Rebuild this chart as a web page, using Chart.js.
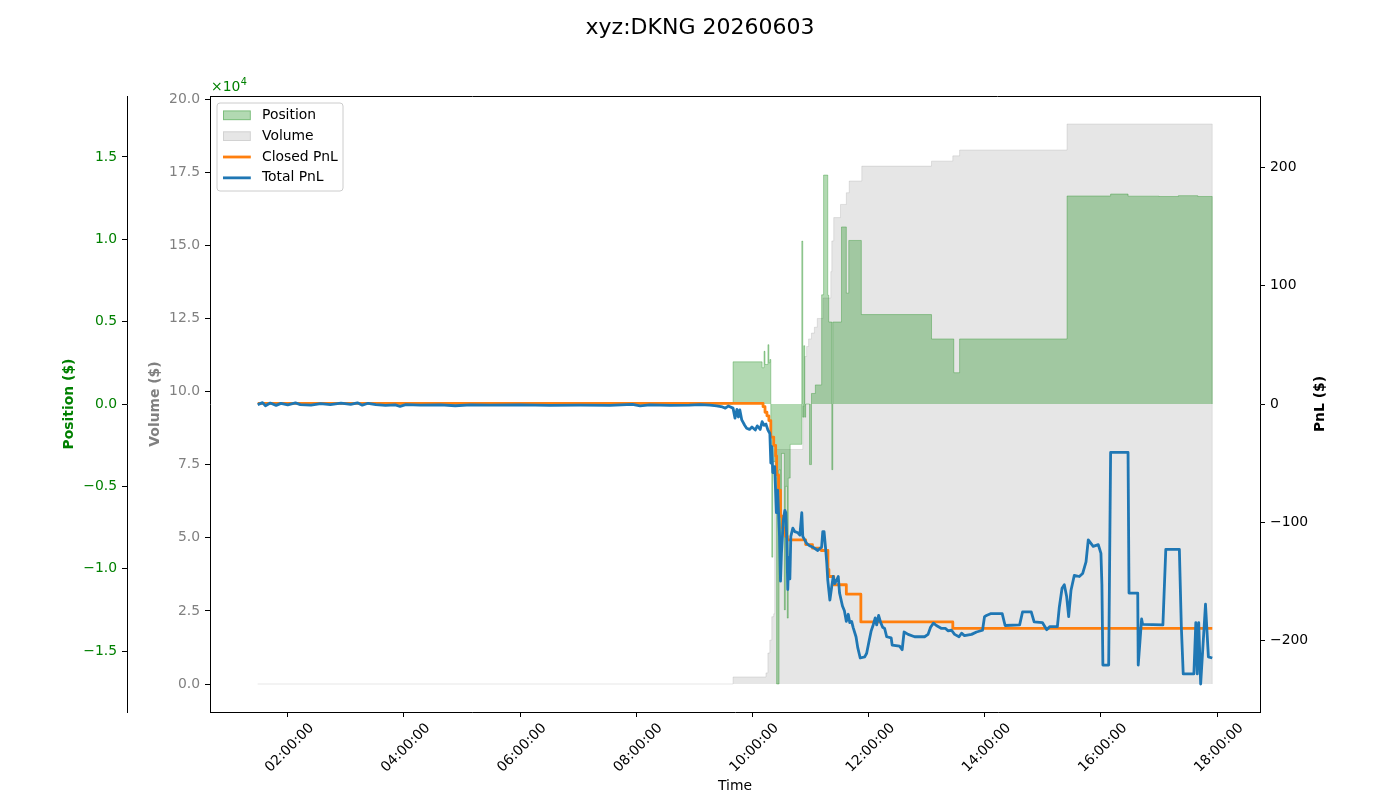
<!DOCTYPE html>
<html>
<head>
<meta charset="utf-8">
<script src="https://cdn.jsdelivr.net/npm/chart.js@4.4.1/dist/chart.umd.min.js"></script>
<style>
html,body{margin:0;padding:0;background:#fff;}
#wrap{width:1400px;height:800px;position:relative;}
canvas{display:block;}
</style>
</head>
<body>
<div id="wrap"><canvas id="c" width="1400" height="800" style="width:1400px;height:800px"></canvas></div>
<script>
// ---------------- DATA ----------------
const chartTitle = "xyz:DKNG 20260603";

const posTimes = ["01:29:00","09:40:00","10:10:00","10:12:00","10:13:00","10:16:00","10:17:00","10:18:00","10:19:00","10:20:00",
  "10:21:00","10:24:00","10:25:00","10:27:30","10:28:00","10:29:00","10:30:00","10:33:00","10:34:00","10:36:00",
  "10:37:00","10:39:00","10:51:00","10:52:00","10:53:00","10:54:00","10:55:00","10:59:00","11:01:00","11:05:00",
  "11:11:30","11:13:30","11:17:50","11:18:50","11:22:00","11:23:00","11:32:00","11:37:00","11:39:30","11:52:30",
  "13:05:00","13:28:00","13:34:00","15:25:00","16:10:00","16:28:00","17:00:00","17:20:00","17:40:00","17:55:00",
  "17:55:00"];
const posValues = [0,2560,2200,3200,2400,3600,2500,2700,-3000,-9300,
  -3500,-4500,-17000,-4000,-4000,-9500,-3000,-12500,-5000,-13000,
  -4500,-2450,9890,-800,3540,-800,0,-3680,640,1160,
  6630,13900,6600,4980,-3990,4980,10750,6730,9930,5430,
  3950,1900,3950,12630,12750,12620,12600,12650,12600,12600,
  0];

const volTimes = ["01:29:00","09:40:00","10:14:00","10:16:00","10:18:00","10:20:00","10:22:00","10:23:00","10:52:00","10:54:00",
  "10:56:00","10:58:00","11:01:00","11:04:00","11:07:00","11:13:00","11:21:00","11:22:00","11:24:00","11:31:00",
  "11:37:00","11:40:00","11:53:00","13:05:00","13:27:00","13:34:00","15:25:00","17:55:00","17:55:00"];
const volValues = [0,2400,3800,10600,15000,23000,24000,80200,95000,112000,
  115400,118000,120000,122000,125000,132000,141000,151500,159500,164000,
  168000,172000,177100,178800,180600,182600,191500,191500,0];

const closedTimes = ["01:29:00","10:11:00","10:13:00","10:15:00","10:17:00","10:19:00","10:22:00","10:24:00","10:25:00","10:27:00",
  "10:29:00","10:31:00","10:34:00","10:36:00","10:55:00","11:02:00","11:11:00","11:18:00","11:19:00","11:24:00",
  "11:37:00","11:52:00","13:27:00","17:55:00"];
const closedValues = [0.6,-2.3,-7,-10,-14,-28,-35,-44,-60,-73,
  -95,-105,-112,-115,-119,-122,-124,-140,-146,-153,
  -161,-184.5,-190,-190];

const totalTimes = [
  "01:29:00","01:34:00","01:37:00","01:42:00","01:48:00","01:53:00","02:00:00","02:08:00","02:13:00","02:24:00",
  "02:34:00","02:44:00","02:55:00","03:05:00","03:12:00","03:17:00","03:23:00","03:31:00","03:41:00","03:51:00",
  "03:56:00","04:02:00","04:17:00","04:38:00","04:53:00","05:09:00","05:29:00","06:00:00","06:31:00","07:02:00",
  "07:33:00","07:56:00","08:04:00","08:14:00","08:35:00","08:55:00","09:06:00","09:16:00","09:23:00","09:29:00",
  "09:32:00","09:35:00","09:40:00","09:42:00","09:44:00","09:45:30","09:47:00","09:49:00","09:52:00","09:54:00",
  "09:57:00","09:59:30","10:03:00","10:05:00","10:08:00","10:10:00","10:12:00","10:14:00","10:16:00","10:18:00",
  "10:19:00","10:20:00","10:21:00","10:23:00","10:24:45","10:26:00","10:28:00","10:29:00","10:30:00","10:32:00",
  "10:33:30","10:34:30","10:35:30","10:36:30","10:37:30","10:38:40","10:39:40","10:41:45","10:43:45","10:47:00",
  "10:49:00","10:51:00","10:52:00","10:54:00","10:56:00","10:59:00","11:02:00","11:07:30","11:11:30","11:12:40",
  "11:14:00","11:15:45","11:16:50","11:17:50","11:20:00","11:22:00","11:23:30","11:25:00","11:27:00","11:28:40",
  "11:30:00","11:33:00","11:35:00","11:37:00","11:39:00","11:40:30","11:42:30","11:44:00","11:47:00","11:48:45",
  "11:51:20","11:56:00","11:58:00","12:00:40","12:02:40","12:04:45","12:06:50","12:08:20","12:10:20","12:12:30",
  "12:14:30","12:16:35","12:18:40","12:23:20","12:24:20","12:32:00","12:34:40","12:36:40","12:40:50","12:47:30",
  "12:57:50","13:01:25","13:04:00","13:07:00","13:10:00","13:15:20","13:19:30","13:22:00","13:25:40","13:28:50",
  "13:33:25","13:36:00","13:39:00","13:46:20","13:51:30","13:57:40","13:59:45","14:01:45","14:05:55","14:18:00",
  "14:21:00","14:36:00","14:39:00","14:48:00","14:51:00","14:59:30","15:04:00","15:07:00","15:15:00","15:17:00",
  "15:19:50","15:22:10","15:24:35","15:26:40","15:29:05","15:32:30","15:37:40","15:41:05","15:44:35","15:46:55",
  "15:52:00","15:57:15","16:00:00","16:01:00","16:02:00","16:08:00","16:10:00","16:28:00","16:29:00","16:38:00",
  "16:38:30","16:42:00","16:43:00","17:04:00","17:07:00","17:21:00","17:23:00","17:25:00","17:36:00","17:38:00",
  "17:39:30","17:41:00","17:43:00","17:48:00","17:51:00","17:55:00"];
const totalValues = [
  -0.5,1.2,-1.5,0.8,-1.2,0.5,-0.8,0.9,-0.5,-1.0,
  0.3,-0.6,0.8,-0.4,1.0,-1.0,0.6,-0.5,-1.2,-0.8,
  -2.0,-0.6,-1.0,-0.8,-1.5,-0.7,-1.0,-0.8,-1.2,-0.9,
  -1.1,-0.3,-1.5,-0.8,-1.2,-1.0,-0.5,-1.0,-1.5,-2.5,
  -3.5,-1.7,-3.5,-12,-4.5,-11,-5,-13.5,-18,-20.5,
  -21.5,-19.5,-22,-18.5,-21.5,-15,-18,-17,-22,-25,
  -50,-36,-58,-53,-92,-73,-112,-150,-126,-98,
  -90,-92,-115,-157,-130,-148,-112,-105,-108,-109,
  -111,-92,-112,-115,-118,-120,-121,-124,-121,-108,
  -108,-124,-135,-149,-166,-154,-146,-152,-149,-146,
  -160,-171,-175,-184,-178,-185,-184,-189,-197,-206,
  -215,-214,-211,-200,-192,-187,-181,-187,-179,-185,
  -189,-190,-197,-198,-204,-205,-208,-193,-195,-197,
  -197,-195,-189,-185.5,-187.5,-190,-190,-192,-191.5,-195,
  -197,-194,-196,-195,-193,-191.5,-180,-179,-177.5,-177.5,
  -187.5,-187,-176,-176,-184.5,-185,-191,-188.5,-188.5,-172,
  -156,-153,-163,-180,-157.6,-145,-146,-143.5,-133.6,-115,
  -120.5,-119,-126.5,-153,-221,-221,-41,-41,-160,-160,
  -221,-182,-186.5,-187,-123,-123,-187.5,-228.5,-228.5,-185,
  -228.5,-185,-237,-169.5,-214,-215];

const xTickValues = [2,4,6,8,10,12,14,16,18];
const xTickLabels = ["02:00:00","04:00:00","06:00:00","08:00:00","10:00:00","12:00:00","14:00:00","16:00:00","18:00:00"];
const posTickValues = [-15000,-10000,-5000,0,5000,10000,15000];
const posTickLabels = ["\u22121.5","\u22121.0","\u22120.5","0.0","0.5","1.0","1.5"];
const volTickValues = [0,25000,50000,75000,100000,125000,150000,175000,200000];
const volTickLabels = ["0.0","2.5","5.0","7.5","10.0","12.5","15.0","17.5","20.0"];
const pnlTickValues = [-200,-100,0,100,200];
const pnlTickLabels = ["\u2212200","\u2212100","0","100","200"];

// ---------------- HELPERS ----------------
function toHours(t){ const p = t.split(':').map(Number); return p[0] + p[1]/60 + (p[2]||0)/3600; }
function series(times, values){ return times.map((t,i)=>({x: toHours(t), y: values[i]})); }

const FONT = "'DejaVu Sans', 'Liberation Sans', sans-serif";
const FS = 13.9;
Chart.defaults.font.family = FONT;

// axis limits like matplotlib auto margins
const allH = totalTimes.map(toHours);
const hMin = Math.min(...allH), hMax = Math.max(...allH);
const xPad = (hMax - hMin) * 0.05;
const posLim = Math.max(...posValues.map(Math.abs)) * 1.1;
const pnlLim = Math.max(...totalValues.map(Math.abs), ...closedValues.map(Math.abs)) * 1.1;
const vMax = Math.max(...volValues), vPad = vMax * 0.05;

const COL_POS = 'rgba(0,128,0,0.3)';
const COL_VOL = 'rgba(128,128,128,0.2)';
const COL_CLOSED = '#ff7f0e';
const COL_TOTAL = '#1f77b4';

function yAxis(opts){
  return Object.assign({
    type: 'linear',
    grid: { drawOnChartArea: false, drawTicks: true, tickLength: 5, color: '#000', tickColor: '#000', tickWidth: 1 },
    border: { display: true, color: '#000', width: 1 },
  }, opts);
}

const extras = {
  id: 'extras',
  afterDraw(chart){
    const {ctx, chartArea: a} = chart;
    ctx.save();
    // top spine
    ctx.strokeStyle = '#000'; ctx.lineWidth = 1;
    ctx.beginPath(); ctx.moveTo(a.left, Math.round(a.top) + 0.5); ctx.lineTo(a.right, Math.round(a.top) + 0.5); ctx.stroke();

    // offset text x10^4
    ctx.fillStyle = 'green';
    ctx.textBaseline = 'alphabetic'; ctx.textAlign = 'left';
    ctx.font = FS + 'px ' + FONT;
    ctx.fillText('\u00d710', a.left + 1, a.top - 5);
    const w = ctx.measureText('\u00d710').width;
    ctx.font = '9.7px ' + FONT;
    ctx.fillText('4', a.left + 1 + w + 0.5, a.top - 11);

    // right axis title (reads bottom to top)
    ctx.save();
    ctx.translate(a.right + 60, (a.top + a.bottom) / 2);
    ctx.rotate(-Math.PI / 2);
    ctx.fillStyle = '#000';
    ctx.font = 'bold ' + FS + 'px ' + FONT;
    ctx.textAlign = 'center'; ctx.textBaseline = 'middle';
    ctx.fillText('PnL ($)', 0, 0);
    ctx.restore();

    // legend
    const lx = a.left + 7, ly = a.top + 7, lw = 126, lh = 88, r = 3;
    ctx.beginPath();
    ctx.moveTo(lx + r, ly); ctx.lineTo(lx + lw - r, ly); ctx.quadraticCurveTo(lx + lw, ly, lx + lw, ly + r);
    ctx.lineTo(lx + lw, ly + lh - r); ctx.quadraticCurveTo(lx + lw, ly + lh, lx + lw - r, ly + lh);
    ctx.lineTo(lx + r, ly + lh); ctx.quadraticCurveTo(lx, ly + lh, lx, ly + lh - r);
    ctx.lineTo(lx, ly + r); ctx.quadraticCurveTo(lx, ly, lx + r, ly);
    ctx.closePath();
    ctx.fillStyle = 'rgba(255,255,255,0.8)'; ctx.fill();
    ctx.strokeStyle = '#cccccc'; ctx.lineWidth = 1; ctx.stroke();

    const ds = chart.data.datasets;
    const order = [0, 1, 2, 3];
    ctx.font = FS + 'px ' + FONT;
    ctx.textAlign = 'left'; ctx.textBaseline = 'middle';
    order.forEach((di, k) => {
      const d = ds[di];
      const cy = ly + 12.3 + k * 20.85;
      const hx = lx + 6, hw = 27.8;
      if (d.fill) {
        ctx.fillStyle = d.backgroundColor;
        ctx.fillRect(hx, cy - 4.85, hw, 9.7);
        ctx.strokeStyle = d.borderColor; ctx.lineWidth = 1;
        ctx.strokeRect(hx + 0.5, cy - 4.85 + 0.5, hw - 1, 9.7 - 1);
      } else {
        ctx.strokeStyle = d.borderColor; ctx.lineWidth = d.borderWidth;
        ctx.beginPath(); ctx.moveTo(hx, cy); ctx.lineTo(hx + hw, cy); ctx.stroke();
      }
      ctx.fillStyle = '#000';
      ctx.fillText(d.label, lx + 45, cy);
    });
    ctx.restore();
  }
};

new Chart(document.getElementById('c'), {
  type: 'line',
  data: {
    datasets: [
      { label: 'Position', yAxisID: 'yPos', data: series(posTimes, posValues), stepped: true,
        fill: 'origin', backgroundColor: COL_POS, borderColor: COL_POS, borderWidth: 1, pointRadius: 0, order: 2 },
      { label: 'Volume', yAxisID: 'yVol', data: series(volTimes, volValues), stepped: true,
        fill: 'origin', backgroundColor: COL_VOL, borderColor: COL_VOL, borderWidth: 1, pointRadius: 0, order: 3 },
      { label: 'Closed PnL', yAxisID: 'yPnl', data: series(closedTimes, closedValues), stepped: true,
        fill: false, borderColor: COL_CLOSED, borderWidth: 2.8, pointRadius: 0, order: 1, borderJoinStyle: 'round' },
      { label: 'Total PnL', yAxisID: 'yPnl', data: series(totalTimes, totalValues),
        fill: false, borderColor: COL_TOTAL, borderWidth: 2.8, pointRadius: 0, order: 0, borderJoinStyle: 'round', tension: 0 }
    ]
  },
  options: {
    responsive: false,
    animation: false,
    devicePixelRatio: 1,
    events: [],
    layout: { padding: 0 },
    plugins: {
      legend: { display: false },
      tooltip: { enabled: false },
      title: { display: true, text: chartTitle, color: '#000', font: { family: FONT, size: 22, weight: 'normal' },
               padding: { top: 15, bottom: 54.6 } }
    },
    scales: {
      x: {
        type: 'linear', position: 'bottom', min: hMin - xPad, max: hMax + xPad,
        afterBuildTicks: s => { s.ticks = xTickValues.map(v => ({ value: v })); },
        afterFit: s => { s.height = 88; },
        ticks: { autoSkip: false, minRotation: 45, maxRotation: 45, labelOffset: 24, padding: 3, color: '#000',
                 font: { family: FONT, size: FS }, callback: (v, i) => xTickLabels[i] },
        grid: { drawOnChartArea: false, drawTicks: true, tickLength: 5, color: '#000', tickColor: '#000', tickWidth: 1 },
        border: { display: true, color: '#000', width: 1 },
        title: { display: true, text: 'Time', color: '#000', font: { family: FONT, size: FS }, padding: { top: 0, bottom: 5 } }
      },
      yPos: yAxis({
        position: 'left', weight: 2, min: -posLim, max: posLim,
        afterBuildTicks: s => { s.ticks = posTickValues.map(v => ({ value: v })); },
        afterFit: s => { s.width = 127; },
        ticks: { autoSkip: false, padding: 5, color: 'green', font: { family: FONT, size: FS }, callback: (v, i) => posTickLabels[i] },
        title: { display: true, text: 'Position ($)', color: 'green', font: { family: FONT, size: FS, weight: 'bold' }, padding: { top: 60.7, bottom: 0 } }
      }),
      yVol: yAxis({
        position: 'left', weight: 1, min: -vPad, max: vMax + vPad,
        afterBuildTicks: s => { s.ticks = volTickValues.map(v => ({ value: v })); },
        afterFit: s => { s.width = 83; },
        ticks: { autoSkip: false, padding: 5, color: 'gray', font: { family: FONT, size: FS }, callback: (v, i) => volTickLabels[i] },
        title: { display: true, text: 'Volume ($)', color: 'gray', font: { family: FONT, size: FS, weight: 'bold' }, padding: { top: 19.7, bottom: 0 } }
      }),
      yPnl: yAxis({
        position: 'right', weight: 1, min: -pnlLim, max: pnlLim,
        afterBuildTicks: s => { s.ticks = pnlTickValues.map(v => ({ value: v })); },
        afterFit: s => { s.width = 140; },
        ticks: { autoSkip: false, padding: 5, color: '#000', font: { family: FONT, size: FS }, callback: (v, i) => pnlTickLabels[i] },
        title: { display: false }
      })
    }
  },
  plugins: [extras]
});
</script>
</body>
</html>
